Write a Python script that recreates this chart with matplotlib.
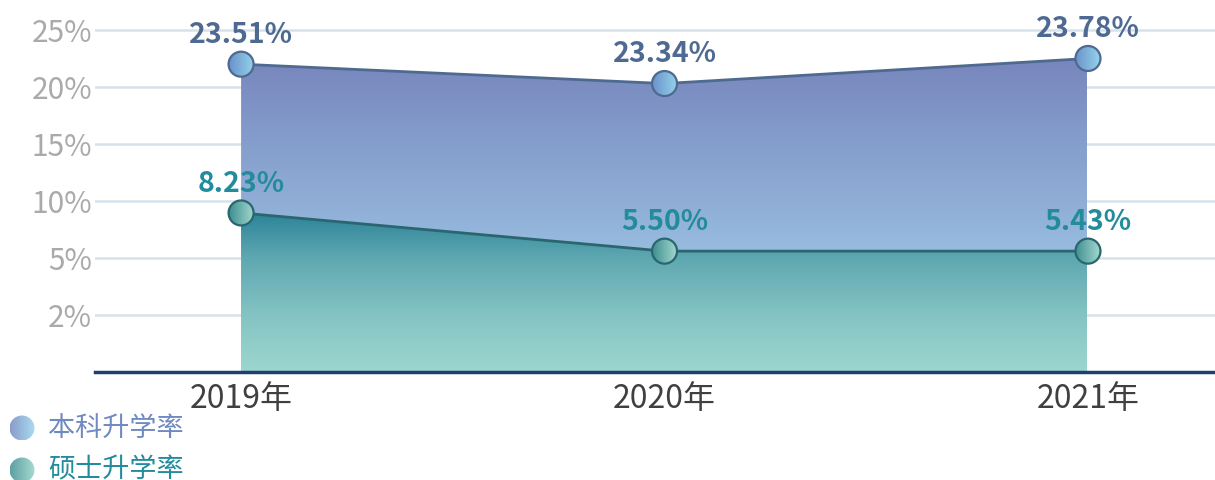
import numpy as np
from matplotlib import pyplot as plt
from matplotlib.colors import LinearSegmentedColormap
from matplotlib.patches import Polygon, Circle

plt.rcParams['font.family'] = ['Noto Sans CJK SC', 'DejaVu Sans']

years = ['2019年', '2020年', '2021年']
tick_values = [2, 5, 10, 15, 20, 25]
tick_labels = ['2%', '5%', '10%', '15%', '20%', '25%']
# heights, labels as printed on the chart
bachelor_plot = [22.0, 20.3, 22.5]
bachelor_labels = ['23.51%', '23.34%', '23.78%']
master_plot = [8.95, 5.6, 5.6]
master_labels = ['8.23%', '5.50%', '5.43%']
series_names = ['本科升学率', '硕士升学率']

# uneven axis: each tick gets the same spacing
breaks = [0, 2, 5, 10, 15, 20, 25, 30]
steps = [0, 1, 2, 3, 4, 5, 6, 7]
def fwd(v):
    return np.interp(v, breaks, steps)
def inv(v):
    return np.interp(v, steps, breaks)

W, H = 1215, 480
fig = plt.figure(figsize=(W/100, H/100), dpi=100)
ax = fig.add_axes([95/W, 108/H, 1120/W, 352/H])
ax.set_yscale('function', functions=(fwd, inv))

x = np.arange(len(years))

for yv in tick_values:
    ax.axhline(yv, color='#d6e2ea', lw=1.8, zorder=0)

def grad_fill(xs, top, bottom, c_top, c_bot, z):
    verts = list(zip(xs, top)) + list(zip(xs[::-1], bottom[::-1]))
    poly = Polygon(verts, closed=True, facecolor='none', edgecolor='none')
    ax.add_patch(poly)
    cmap = LinearSegmentedColormap.from_list('g', [c_bot, c_top])
    grad = np.linspace(0, 1, 256).reshape(-1, 1)
    im = ax.imshow(grad, cmap=cmap, origin='lower', aspect='auto',
                   extent=[xs[0], xs[-1], 0, max(top)], zorder=z)
    im.set_clip_path(poly)

zeros = np.zeros(len(x))
grad_fill(x, np.array(bachelor_plot), zeros, '#7786bd', '#a2cdea', 1)
grad_fill(x, np.array(master_plot), zeros, '#2c8399', '#9dd6cf', 2)
ax.set_xlim(-0.345, 2.30)
ax.set_ylim(0, inv(6.175))

ax.plot(x, bachelor_plot, color='#4e6a90', lw=2, zorder=3)
ax.plot(x, master_plot, color='#2b6670', lw=2, zorder=3)

for i in range(len(x)):
    ax.annotate(bachelor_labels[i], (x[i], bachelor_plot[i]), xytext=(0, 11),
                textcoords='offset points', ha='center', va='bottom',
                fontsize=20.5, fontweight='bold', color='#4f6a92', zorder=4)
    ax.annotate(master_labels[i], (x[i], master_plot[i]), xytext=(0, 11),
                textcoords='offset points', ha='center', va='bottom',
                fontsize=20.5, fontweight='bold', color='#238b9b', zorder=4)

ax.set_xticks(x)
ax.set_xticklabels(years, fontsize=23, color='#404040')
ax.set_yticks(tick_values)
ax.set_yticklabels(tick_labels, fontsize=21.5, color='#aaaaaa')
ax.tick_params(axis='both', length=0)
ax.tick_params(axis='y', pad=2)
ax.tick_params(axis='x', pad=8)
ax.yaxis.set_minor_locator(plt.NullLocator())
for s in ['top', 'right', 'left']:
    ax.spines[s].set_visible(False)
ax.spines['bottom'].set_color('#1f3f6e')
ax.spines['bottom'].set_linewidth(2.5)
ax.spines['bottom'].set_zorder(5)

# overlay in pixel units for the round gradient dots
ov = fig.add_axes([0, 0, 1, 1])
ov.set_xlim(0, W)
ov.set_ylim(0, H)
ov.axis('off')

def grad_dot(cx, cy, r, c_left, c_right, edge=None):
    cmap = LinearSegmentedColormap.from_list('d', [c_left, c_right])
    grad = np.linspace(0, 1, 64).reshape(1, -1)
    im = ov.imshow(grad, cmap=cmap, aspect='auto',
                   extent=[cx - r, cx + r, cy - r, cy + r], zorder=2)
    clip = Circle((cx, cy), r, facecolor='none', edgecolor='none')
    ov.add_patch(clip)
    im.set_clip_path(clip)
    if edge:
        ov.add_patch(Circle((cx, cy), r, facecolor='none', edgecolor=edge,
                            lw=1.6, zorder=3))

for vals, cl, cr, ec in [(bachelor_plot, '#6a92cb', '#94d2ea', '#4e6a90'),
                         (master_plot, '#3e8f91', '#a2d7cd', '#2b6670')]:
    for i in range(len(x)):
        px, py = ax.transData.transform((x[i], vals[i]))
        grad_dot(px, py, 12.5, cl, cr, ec)

legend_dots = [('#8a9bcc', '#a9dcef'), ('#5ea0a4', '#a6d9cf')]
legend_text = ['#6f8ac0', '#238b9b']
for k, name in enumerate(series_names):
    cy = H - (428 + 42*k)
    grad_dot(22, cy, 12.5, legend_dots[k][0], legend_dots[k][1])
    ov.text(48, cy, name, fontsize=19.5, color=legend_text[k],
            va='center', ha='left')
ov.set_xlim(0, W)
ov.set_ylim(0, H)

fig.savefig('out.png', dpi=100)
